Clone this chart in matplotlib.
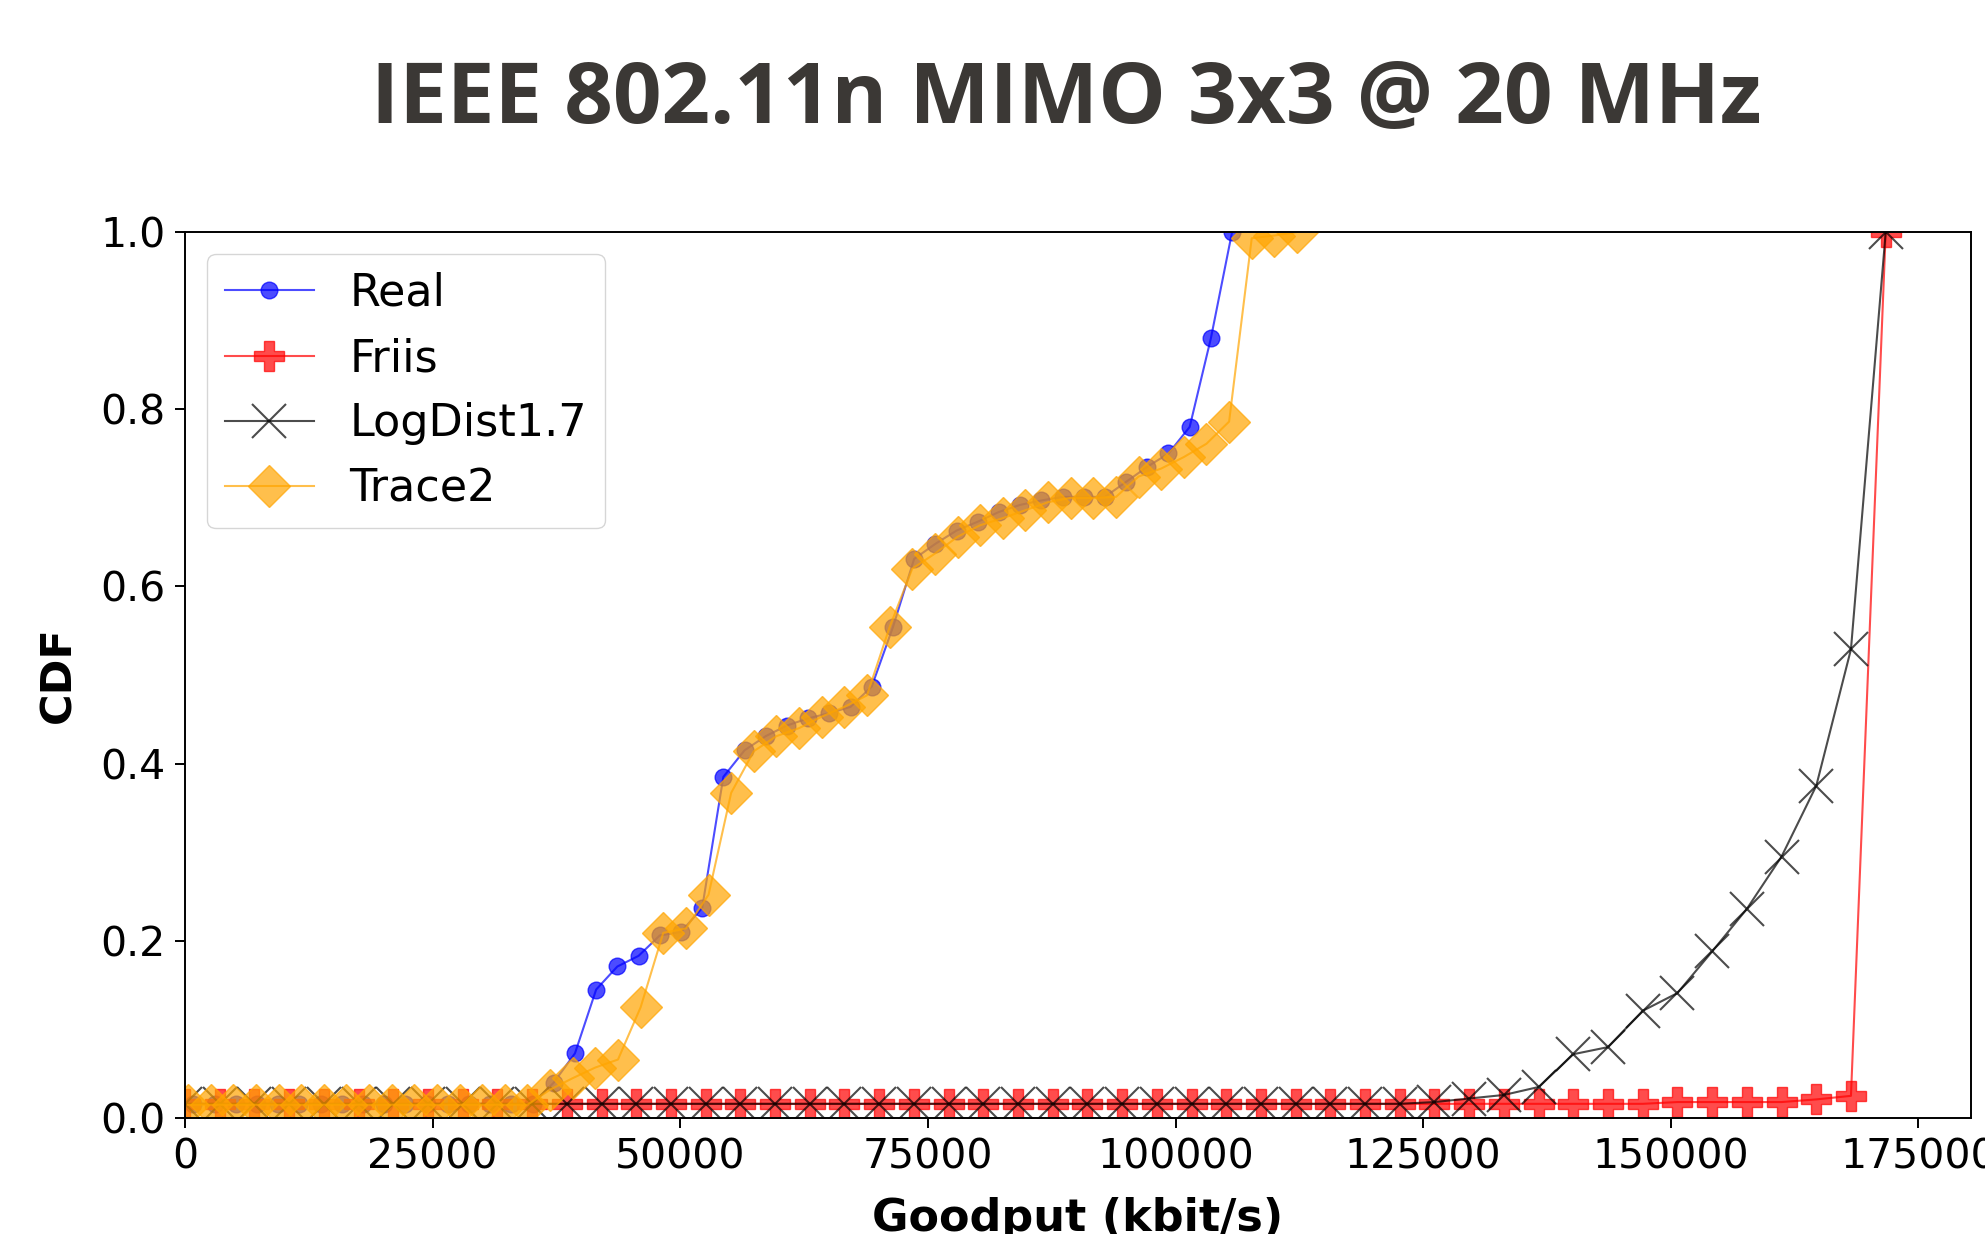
import matplotlib
matplotlib.use("Agg")
import matplotlib.pyplot as plt

# x positions (kbit/s), one list per series
real_x = [850, 2990, 5130, 7270, 9410, 11550, 13690, 15830, 17970, 20110,
          22250, 24390, 26530, 28670, 30810, 32950, 35090, 37230, 39370, 41510,
          43650, 45790, 47930, 50070, 52210, 54350, 56490, 58630, 60770, 62910,
          65050, 67190, 69330, 71470, 73610, 75750, 77890, 80030, 82170, 84310,
          86450, 88590, 90730, 92870, 95010, 97150, 99290, 101430, 103570, 105710]
real_y = [0.016, 0.016, 0.016, 0.016, 0.016, 0.016, 0.016, 0.016, 0.016, 0.016,
          0.016, 0.016, 0.016, 0.016, 0.016, 0.016, 0.016, 0.040, 0.073, 0.145,
          0.171, 0.183, 0.206, 0.210, 0.237, 0.385, 0.415, 0.431, 0.443, 0.451,
          0.457, 0.464, 0.487, 0.554, 0.631, 0.648, 0.663, 0.673, 0.684, 0.692,
          0.697, 0.701, 0.701, 0.701, 0.718, 0.735, 0.750, 0.780, 0.880, 1.000]

model_x = [0, 3500, 7010, 10510, 14020, 17520, 21020, 24530, 28030, 31540,
           35040, 38540, 42050, 45550, 49060, 52560, 56060, 59570, 63070, 66580,
           70080, 73580, 77090, 80590, 84100, 87600, 91100, 94610, 98110, 101620,
           105120, 108620, 112130, 115630, 119140, 122640, 126140, 129650, 133150, 136660,
           140160, 143660, 147170, 150670, 154180, 157680, 161180, 164690, 168190, 171700]
friis_y = [0.016, 0.016, 0.016, 0.016, 0.016, 0.016, 0.016, 0.016, 0.016, 0.016,
           0.016, 0.016, 0.016, 0.016, 0.016, 0.016, 0.016, 0.016, 0.016, 0.016,
           0.016, 0.016, 0.016, 0.016, 0.016, 0.016, 0.016, 0.016, 0.016, 0.016,
           0.016, 0.016, 0.016, 0.016, 0.016, 0.016, 0.016, 0.016, 0.016, 0.016,
           0.016, 0.016, 0.016, 0.018, 0.018, 0.018, 0.018, 0.021, 0.025, 1.000]
logdist_y = [0.016, 0.016, 0.016, 0.016, 0.016, 0.016, 0.016, 0.016, 0.016, 0.016,
             0.016, 0.016, 0.016, 0.016, 0.016, 0.016, 0.016, 0.016, 0.016, 0.016,
             0.016, 0.016, 0.016, 0.016, 0.016, 0.016, 0.016, 0.016, 0.016, 0.016,
             0.016, 0.016, 0.016, 0.016, 0.016, 0.016, 0.018, 0.022, 0.026, 0.035,
             0.072, 0.080, 0.121, 0.141, 0.188, 0.236, 0.295, 0.375, 0.529, 1.000]

trace_x = [300, 2585, 4870, 7155, 9440, 11725, 14010, 16295, 18580, 20865,
           23150, 25435, 27720, 30005, 32290, 34575, 36860, 39145, 41430, 43715,
           46000, 48285, 50570, 52855, 55140, 57425, 59710, 61995, 64280, 66565,
           68850, 71135, 73420, 75705, 77990, 80275, 82560, 84845, 87130, 89415,
           91700, 93985, 96270, 98555, 100840, 103125, 105410, 107695, 109980, 112265]
trace_y = [0.015, 0.015, 0.015, 0.015, 0.015, 0.015, 0.015, 0.015, 0.015, 0.015,
           0.015, 0.015, 0.015, 0.015, 0.015, 0.015, 0.032, 0.045, 0.057, 0.066,
           0.125, 0.209, 0.214, 0.252, 0.367, 0.414, 0.431, 0.440, 0.453, 0.464,
           0.477, 0.554, 0.620, 0.637, 0.656, 0.669, 0.677, 0.686, 0.695, 0.700,
           0.700, 0.701, 0.724, 0.733, 0.746, 0.761, 0.786, 0.993, 0.996, 1.000]

x_ticks = [0, 25000, 50000, 75000, 100000, 125000, 150000, 175000]
y_ticks = [0.0, 0.2, 0.4, 0.6, 0.8, 1.0]

fig = plt.figure(figsize=(19.85, 12.34), dpi=100)
ax = fig.add_axes([0.0932, 0.094, 0.8997, 0.718])

ax.plot(real_x, real_y, color="blue", marker="o", markersize=12, lw=1.5,
        alpha=0.7, label="Real")
ax.plot(model_x, friis_y, color="red", marker="P", markersize=22, lw=1.5,
        alpha=0.7, label="Friis")
ax.plot(model_x, logdist_y, color="black", marker="x", markersize=24, mew=1.5,
        lw=1.5, alpha=0.7, label="LogDist1.7")
ax.plot(trace_x, trace_y, color="orange", marker="D", markersize=21, lw=1.5,
        alpha=0.7, label="Trace2")

ax.set_xlim(0, 180300)
ax.set_ylim(0, 1.0)
ax.set_xticks(x_ticks)
ax.set_yticks(y_ticks)
ax.tick_params(labelsize=29.5, length=7, width=1.4, pad=7)
for s in ax.spines.values():
    s.set_linewidth(1.4)

ax.set_xlabel("Goodput (kbit/s)", fontsize=32, fontweight="bold")
ax.set_ylabel("CDF", fontsize=31, fontweight="bold")
ax.xaxis.set_label_coords(0.5, -0.089)
ax.yaxis.set_label_coords(-0.059, 0.5)

ax.legend(loc="upper left", fontsize=32)

fig.text(0.5373, 0.9003, "IEEE 802.11n MIMO 3x3 @ 20 MHz", ha="center",
         va="baseline", fontsize=61.3, fontweight="bold", family="Open Sans",
         color="#3b3835")

fig.savefig("out.png", dpi=100)
